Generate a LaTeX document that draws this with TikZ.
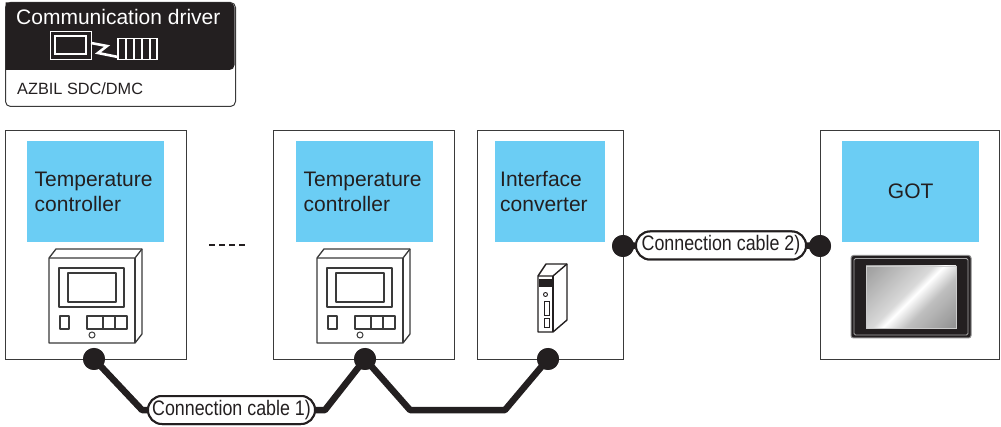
\documentclass[tikz,border=0pt]{standalone}
\usepackage{fontspec}
\setmainfont{Liberation Sans}
\newfontfamily\narrowfont[FakeStretch=0.85]{Liberation Sans}
\usetikzlibrary{shapes.misc}
\definecolor{panelblue}{HTML}{6BCDF4}
\definecolor{edgegray}{HTML}{3A3A3A}
\definecolor{ink}{HTML}{231F20}
\pgfdeclarehorizontalshading{glass}{100bp}{color(0bp)=(black!55); color(38bp)=(black!25); color(49bp)=(white); color(54bp)=(black!15); color(100bp)=(black!50)}
\tikzset{
  unitbox/.style={draw=edgegray, line width=1.4pt, fill=white, anchor=north west, inner sep=0pt},
  bluepanel/.style={fill=panelblue, anchor=north west, inner sep=0pt, text=ink, font=\fontsize{21}{26}\selectfont, align=left},
  jack/.style={circle, fill=ink, inner sep=0pt, minimum size=22pt},
  cable/.style={draw=ink, line width=6.5pt, line join=round},
  cablelabel/.style={rounded rectangle, draw=ink, line width=2pt, fill=white, inner sep=0pt, minimum height=28pt, text=ink, font=\narrowfont\fontsize{21}{24}\selectfont},
  devline/.style={draw=edgegray, line width=1.3pt, line join=round}
}
\begin{document}
\begin{tikzpicture}[x=1pt, y=-1pt]
\useasboundingbox (0,0) rectangle (1001,427);

% ---- communication driver header ----
\node (hdr) [draw=edgegray, line width=1pt, rounded corners=5pt, minimum width=230pt, minimum height=104pt, anchor=north west, inner sep=0pt] at (5,2) {};
\fill[ink, rounded corners=5pt] (5.5,2.5) -- (234.5,2.5) -- (234.5,70) [sharp corners] -- (5.5,70) -- cycle;
\node (hdrtitle) [text=white, font=\fontsize{21}{24}\selectfont, anchor=base west, inner sep=0pt] at (16,25) {Communication driver};
\node (hdrname) [text=ink, font=\fontsize{16.3}{20}\selectfont, anchor=base west, inner sep=0pt] at (17,95) {AZBIL SDC/DMC};
% driver icon
\draw[white, line width=1.5pt] (50.5,31.5) rectangle (91.5,59.5);
\draw[white, line width=1.3pt] (55,36) rectangle (86,54);
\draw[white, line width=2.6pt, line join=miter] (91,43) -- (107,46) -- (98,53) -- (118,57);
\draw[white, line width=1.5pt] (118,38.5) rectangle (157,59.5);
\foreach \xx in {126,134,142,150} \draw[white, line width=1.3pt] (\xx,38.5) -- (\xx,59.5);

% ---- unit boxes ----
\node (tc1) [unitbox, minimum width=181pt, minimum height=229pt] at (5,130) {};
\node (tc2) [unitbox, minimum width=181pt, minimum height=229pt] at (273,130) {};
\node (ifc) [unitbox, minimum width=146pt, minimum height=229pt] at (477,130) {};
\node (got) [unitbox, minimum width=179pt, minimum height=229pt] at (820,130) {};

\node (tc1lbl) [bluepanel, minimum width=137pt, minimum height=101pt, text width=122pt] at (27,141) {Temperature\\[-1pt]controller};
\node (tc2lbl) [bluepanel, minimum width=137pt, minimum height=101pt, text width=122pt] at (296,141) {Temperature\\[-1pt]controller};
\node (ifclbl) [bluepanel, minimum width=110pt, minimum height=101pt, text width=100pt] at (495,141) {Interface\\[-1pt]converter};
\node (gotlbl) [bluepanel, minimum width=137pt, minimum height=101pt, align=center] at (842,141) {GOT};

% ellipsis between the controllers
\draw[ink, line width=2.5pt, dash pattern=on 6pt off 4pt] (209,245) -- (248,245);

% ---- temperature controller drawings ----
\foreach \ox in {0,268} {
  \begin{scope}[shift={(\ox,0)}]
    \draw[devline, fill=white] (49,258) -- (56,249) -- (142,249) -- (142,334) -- (135,343) -- (49,343) -- cycle;
    \draw[devline] (49,258) -- (135,258) -- (142,249);
    \draw[devline] (135,258) -- (135,343);
    \draw[devline] (59,268) rectangle (124,307);
    \draw[devline] (68,273) rectangle (116,302);
    \fill[edgegray] (92,302) circle (1pt);
    \draw[devline] (60,316) rectangle (69,329);
    \draw[devline] (87,316) rectangle (127,329);
    \draw[devline] (103,316) -- (103,329);
    \draw[devline] (115,316) -- (115,329);
    \draw[edgegray, line width=1pt] (92,335) circle (3pt);
  \end{scope}
}

% ---- interface converter module ----
\draw[ink, line width=1.4pt, fill=white, line join=round] (538,276) -- (546,264) -- (567,264) -- (567,320) -- (553,332) -- (538,332) -- cycle;
\draw[ink, line width=1.4pt, line join=round] (538,276) -- (553,276) -- (567,264);
\draw[ink, line width=1.4pt] (553,276) -- (553,332);
\fill[ink] (539,279) rectangle (552,287);
\draw[ink, line width=0.9pt] (545.5,294.5) circle (2pt);
\draw[ink, line width=1pt] (544,302) rectangle (549,316);
\draw[ink, line width=1pt] (544,319) rectangle (549,328);

% ---- GOT panel ----
\draw[black!45, line width=1pt, fill=ink, rounded corners=2.5pt] (851,255.5) rectangle (971,338);
\draw[black!35, line width=0.8pt, rounded corners=1.5pt] (854,258.5) rectangle (968,335);
\shade[shading=glass, shading angle=135] (866,266) rectangle (956,328);
\draw[white!80!black, line width=0.8pt] (866,266) rectangle (956,328);

% ---- connection jacks and cable labels ----
\node (j1) [jack] at (94,359) {};
\node (j2) [jack] at (365,359) {};
\node (j3) [jack] at (548,359) {};
\node (j4) [jack] at (623,246) {};
\node (j5) [jack] at (820,246) {};
\node (cab1) [cablelabel, minimum width=167pt] at (231.5,410) {Connection cable 1)};
\node (cab2) [cablelabel, minimum width=170pt] at (721,245.5) {Connection cable 2)};

% ---- cables ----
\draw[cable] (j1.center) -- (142,410) -- (cab1.west);
\draw[cable] (cab1.east) -- (325,410) -- (j2.center);
\draw[cable] (j2.center) -- (410,410) -- (505,410) -- (j3.center);
\draw[cable] (j4.center) -- (cab2.west);
\draw[cable] (cab2.east) -- (j5.center);

% jacks and labels drawn again over the cable ends
\node [jack] at (j1) {};
\node [jack] at (j2) {};
\node [jack] at (j3) {};
\node [jack] at (j4) {};
\node [jack] at (j5) {};
\node [cablelabel, minimum width=167pt] at (cab1) {Connection cable 1)};
\node [cablelabel, minimum width=170pt] at (cab2) {Connection cable 2)};
\end{tikzpicture}
\end{document}
